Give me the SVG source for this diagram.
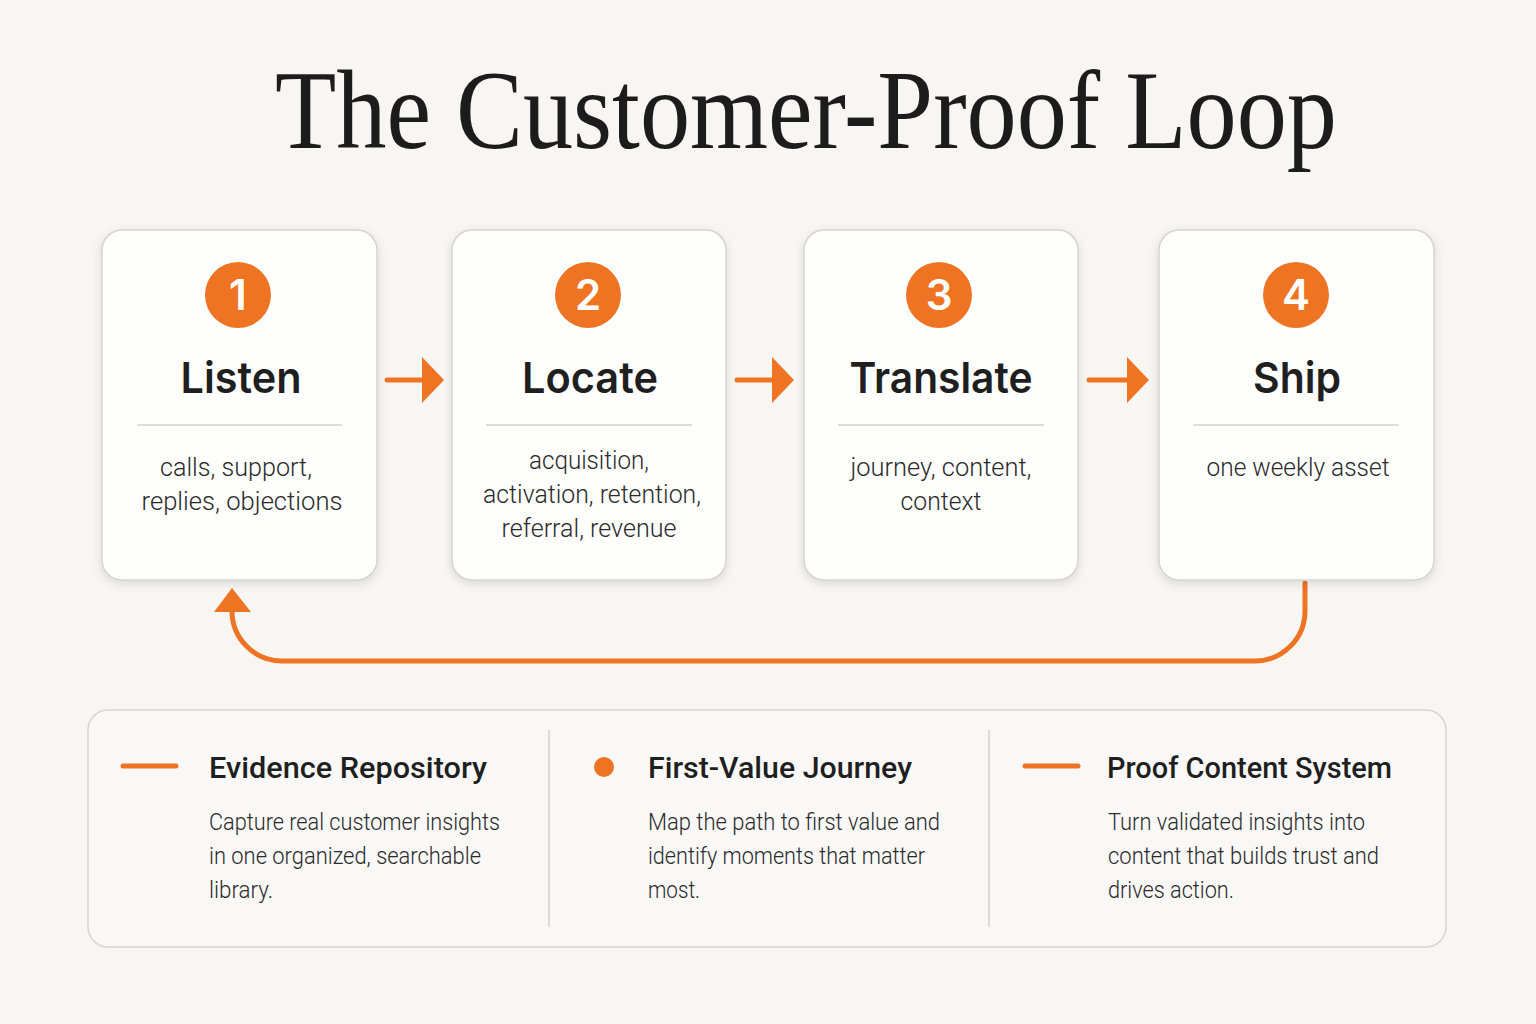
<svg xmlns="http://www.w3.org/2000/svg" width="1536" height="1024" viewBox="0 0 1536 1024">
<defs>
<filter id="sh" x="-10%" y="-10%" width="120%" height="125%">
<feDropShadow dx="0" dy="3" stdDeviation="4" flood-color="#000" flood-opacity="0.12"/>
</filter>
<style>
.card{fill:#fefefd;stroke:#d6d3cf;stroke-width:1.5}
.num{fill:#ee7423}
.numt{font-family:Inter,"Noto Sans",sans-serif;font-weight:600;font-size:42px;fill:#fff;text-anchor:middle}
.ct{font-family:Inter,"Noto Sans",sans-serif;font-weight:600;font-size:43px;fill:#1f1f1f;text-anchor:middle}
.cb{font-family:Roboto,"Noto Sans",sans-serif;font-weight:300;font-size:25px;fill:#2a2a2a;text-anchor:middle}
.div{stroke:#d4d1cd;stroke-width:1.5}
.or{fill:none;stroke:#ee7423;stroke-width:5;stroke-linecap:round}
.ah{fill:#ee7423}
.st{font-family:Roboto,"Noto Sans",sans-serif;font-weight:500;font-size:30px;fill:#1f1f1f}
.sb{font-family:Roboto,"Noto Sans",sans-serif;font-weight:300;font-size:23px;fill:#2a2a2a}
</style>
</defs>
<rect width="1536" height="1024" fill="#f8f6f3"/>
<text x="806" y="148" font-family="Liberation Serif,serif" font-size="112" fill="#1c1c1c" text-anchor="middle" textLength="1062" lengthAdjust="spacingAndGlyphs">The Customer-Proof Loop</text>

<g id="connectors">
<path class="or" d="M387 380 H426"/>
<polygon class="ah" points="444,380 422,357 422,403"/>
<path class="or" d="M737 380 H776"/>
<polygon class="ah" points="794,380 772,357 772,403"/>
<path class="or" d="M1089 380 H1130"/>
<polygon class="ah" points="1149,380 1127,357 1127,403"/>
<path class="or" d="M1305 583 V611 A50 50 0 0 1 1255 661 H282 A50 50 0 0 1 232 611 V606" stroke-linecap="butt"/>
<polygon class="ah" points="232,588 214,612 251,612"/>
</g>

<g id="step1">
<rect class="card" x="102" y="230" width="275" height="350" rx="20" filter="url(#sh)"/>
<circle class="num" cx="238" cy="295" r="33"/>
<text class="numt" x="238" y="310">1</text>
<text class="ct" x="241" y="393" textLength="121" lengthAdjust="spacingAndGlyphs">Listen</text>
<line class="div" x1="137" y1="425" x2="342" y2="425"/>
<text class="cb" x="236" y="476" textLength="152" lengthAdjust="spacingAndGlyphs">calls, support,</text>
<text class="cb" x="242" y="510" textLength="201" lengthAdjust="spacingAndGlyphs">replies, objections</text>
</g>
<g id="step2">
<rect class="card" x="452" y="230" width="274" height="350" rx="20" filter="url(#sh)"/>
<circle class="num" cx="588" cy="295" r="33"/>
<text class="numt" x="588" y="310">2</text>
<text class="ct" x="590" y="393" textLength="136" lengthAdjust="spacingAndGlyphs">Locate</text>
<line class="div" x1="486" y1="425" x2="692" y2="425"/>
<text class="cb" x="589" y="469" textLength="120" lengthAdjust="spacingAndGlyphs">acquisition,</text>
<text class="cb" x="592" y="503" textLength="218" lengthAdjust="spacingAndGlyphs">activation, retention,</text>
<text class="cb" x="589" y="537" textLength="175" lengthAdjust="spacingAndGlyphs">referral, revenue</text>
</g>
<g id="step3">
<rect class="card" x="804" y="230" width="274" height="350" rx="20" filter="url(#sh)"/>
<circle class="num" cx="939" cy="295" r="33"/>
<text class="numt" x="939" y="310">3</text>
<text class="ct" x="941" y="393" textLength="183" lengthAdjust="spacingAndGlyphs">Translate</text>
<line class="div" x1="838" y1="425" x2="1044" y2="425"/>
<text class="cb" x="941" y="476" textLength="181" lengthAdjust="spacingAndGlyphs">journey, content,</text>
<text class="cb" x="941" y="510" textLength="81" lengthAdjust="spacingAndGlyphs">context</text>
</g>
<g id="step4">
<rect class="card" x="1159" y="230" width="275" height="350" rx="20" filter="url(#sh)"/>
<circle class="num" cx="1296" cy="295" r="33"/>
<text class="numt" x="1296" y="310">4</text>
<text class="ct" x="1297" y="393" textLength="88" lengthAdjust="spacingAndGlyphs">Ship</text>
<line class="div" x1="1193" y1="425" x2="1399" y2="425"/>
<text class="cb" x="1298" y="476" textLength="183" lengthAdjust="spacingAndGlyphs">one weekly asset</text>
</g>

<g id="summary">
<rect x="88" y="710" width="1358" height="237" rx="20" fill="#f9f8f6" stroke="#d8d5d1" stroke-width="1.5"/>
<line class="div" x1="549" y1="730" x2="549" y2="927"/>
<line class="div" x1="989" y1="730" x2="989" y2="927"/>
</g>
<g id="evidence">
<path class="or" d="M123 766 H176"/>
<text class="st" x="209" y="778" textLength="278" lengthAdjust="spacingAndGlyphs">Evidence Repository</text>
<text class="sb" x="209" y="830" textLength="291" lengthAdjust="spacingAndGlyphs">Capture real customer insights</text>
<text class="sb" x="209" y="864" textLength="272" lengthAdjust="spacingAndGlyphs">in one organized, searchable</text>
<text class="sb" x="209" y="898" textLength="64" lengthAdjust="spacingAndGlyphs">library.</text>
</g>
<g id="journey">
<circle class="ah" cx="604" cy="767" r="10"/>
<text class="st" x="648" y="778" textLength="264" lengthAdjust="spacingAndGlyphs">First-Value Journey</text>
<text class="sb" x="648" y="830" textLength="292" lengthAdjust="spacingAndGlyphs">Map the path to first value and</text>
<text class="sb" x="648" y="864" textLength="277" lengthAdjust="spacingAndGlyphs">identify moments that matter</text>
<text class="sb" x="648" y="898" textLength="52" lengthAdjust="spacingAndGlyphs">most.</text>
</g>
<g id="proof">
<path class="or" d="M1025 766 H1078"/>
<text class="st" x="1107" y="778" textLength="285" lengthAdjust="spacingAndGlyphs">Proof Content System</text>
<text class="sb" x="1108" y="830" textLength="257" lengthAdjust="spacingAndGlyphs">Turn validated insights into</text>
<text class="sb" x="1108" y="864" textLength="271" lengthAdjust="spacingAndGlyphs">content that builds trust and</text>
<text class="sb" x="1108" y="898" textLength="126" lengthAdjust="spacingAndGlyphs">drives action.</text>
</g>
</svg>
